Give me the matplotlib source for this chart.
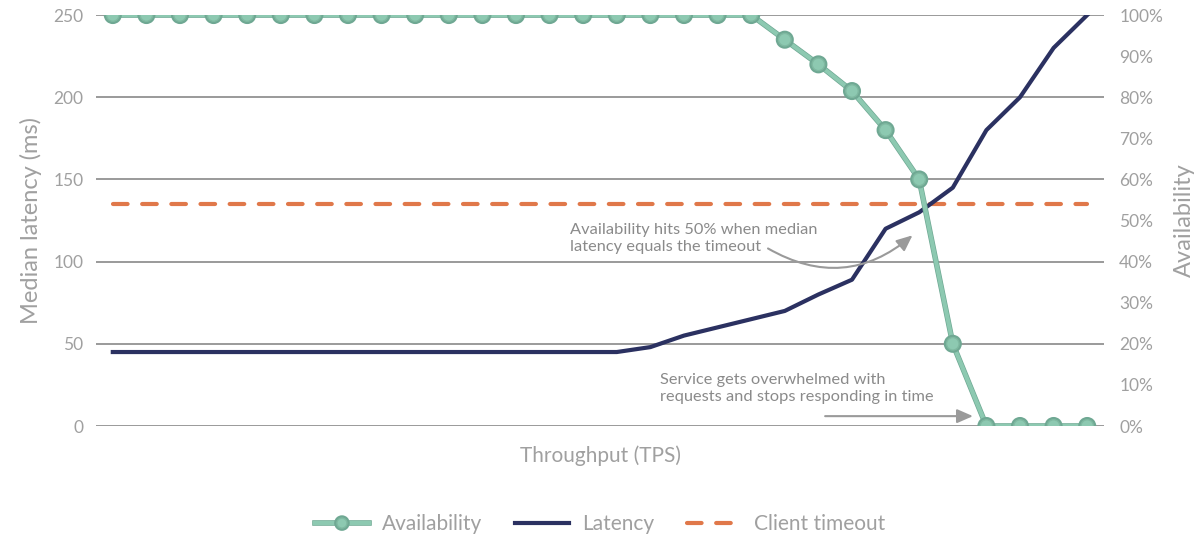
import matplotlib

matplotlib.use("Agg")
import matplotlib.patheffects as pe
from matplotlib import pyplot as plt

plt.rcParams["font.family"] = ["Lato", "DejaVu Sans"]
plt.rcParams["font.size"] = 12

# data (30 equally spaced throughput steps)
throughput = list(range(30))
availability = [100] * 20 + [94, 88, 81.5, 72, 60, 20, 0, 0, 0, 0]
latency = [45] * 16 + [48, 55, 60, 65, 70, 80, 89, 120, 130, 145, 180, 200, 230, 250]
client_timeout = 135

left_ticks = [0, 50, 100, 150, 200, 250]
right_ticks = [0, 10, 20, 30, 40, 50, 60, 70, 80, 90, 100]

green = "#8dc9b1"
navy = "#2b3161"
orange = "#e0784a"
grey = "#9a9a9a"
text_grey = "#a0a0a0"

fig = plt.figure(figsize=(12, 5.37), dpi=100)
ax = fig.add_axes([0.08, 0.2067, 0.84, 0.7653])
ax2 = ax.twinx()

ax.set_xlim(-0.5, 29.5)
ax.set_ylim(0, 250)
ax2.set_ylim(0, 100)

ax.set_yticks(left_ticks)
ax.yaxis.grid(True, color=grey, lw=1.4)
ax.set_axisbelow(True)
ax.set_xticks([])
for a in (ax, ax2):
    for s in a.spines.values():
        s.set_visible(False)
ax.tick_params(axis="y", length=0, pad=9, labelcolor=text_grey, labelsize=12.5)
ax2.set_yticks(right_ticks)
ax2.set_yticklabels([f"{t}%" for t in right_ticks])
ax2.tick_params(axis="y", length=0, pad=11, labelcolor=text_grey, labelsize=12.5)

ax.set_ylabel("Median latency (ms)", color=text_grey, fontsize=17, labelpad=8)
ax2.set_ylabel("Availability", color=text_grey, fontsize=17, labelpad=8)
ax.set_xlabel("Throughput (TPS)", color=text_grey, fontsize=15, labelpad=14)

(l_lat,) = ax.plot(throughput, latency, color=navy, lw=3, label="Latency", zorder=3)
(l_to,) = ax.plot(
    [throughput[0], throughput[-1]],
    [client_timeout, client_timeout],
    color=orange,
    lw=3,
    dashes=(3.5, 3.5),
    dash_capstyle="round",
    label="Client timeout",
    zorder=2,
)
(l_av,) = ax2.plot(
    throughput,
    availability,
    color=green,
    lw=3,
    marker="o",
    markersize=9,
    markeredgecolor="#7fb9a1",
    markeredgewidth=1,
    label="Availability",
    zorder=4,
    path_effects=[pe.Stroke(linewidth=4, foreground="#6fa893"), pe.Normal()],
)

ann_kw = dict(color="#8a8a8a", fontsize=11.8, linespacing=1.3)
arrow_kw = dict(
    arrowstyle="-|>,head_length=0.8,head_width=0.35",
    color="#9a9a9a",
    lw=1.5,
    shrinkA=0,
    shrinkB=0,
)
ax.text(
    13.6,
    114,
    "Availability hits 50% when median\nlatency equals the timeout",
    ha="left",
    va="center",
    **ann_kw,
)
ax.annotate(
    "",
    xy=(23.8, 116),
    xytext=(19.5, 108),
    arrowprops=dict(connectionstyle="arc3,rad=0.35", **arrow_kw),
)
ax.text(
    16.3,
    23,
    "Service gets overwhelmed with\nrequests and stops responding in time",
    ha="left",
    va="center",
    **ann_kw,
)
ax.annotate(
    "",
    xy=(25.6, 6),
    xytext=(21.2, 6),
    arrowprops=arrow_kw,
)

fig.legend(
    handles=[l_av, l_lat, l_to],
    loc="lower center",
    bbox_to_anchor=(0.5, -0.03),
    ncol=3,
    frameon=False,
    fontsize=15,
    labelcolor=text_grey,
    handlelength=2.6,
    handletextpad=0.6,
    columnspacing=1.6,
    markerscale=0.8,
)

fig.savefig("out.png", dpi=100)
